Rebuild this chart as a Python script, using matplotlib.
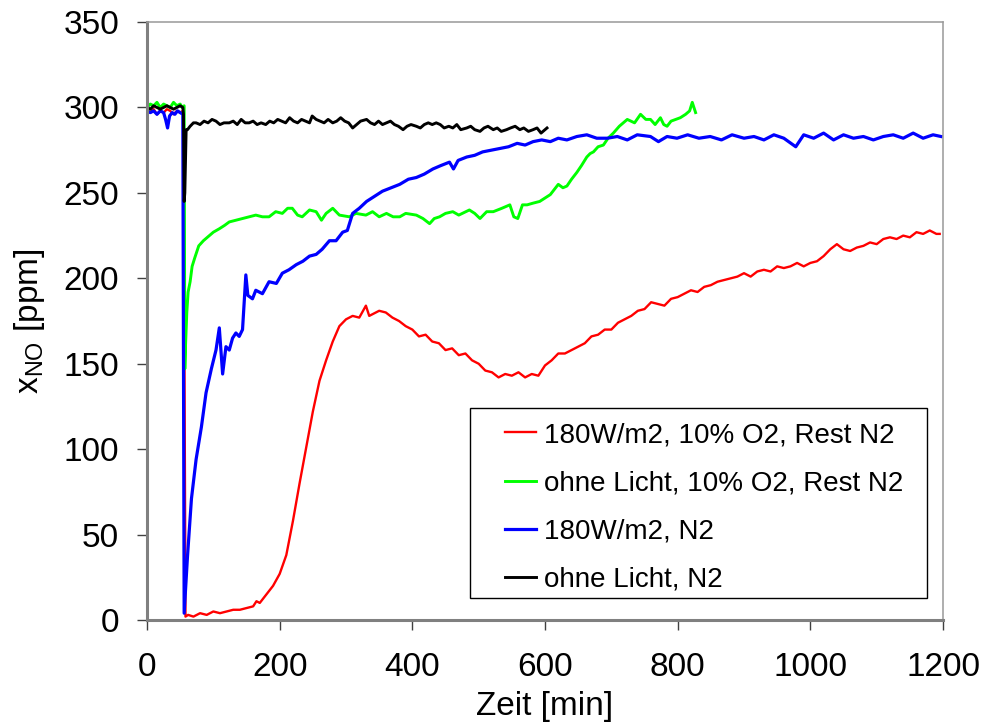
import matplotlib
matplotlib.use('Agg')
import matplotlib.pyplot as plt
from matplotlib.patches import Rectangle

plt.rcParams['font.family'] = ['Liberation Sans', 'DejaVu Sans']

# red: 180W/m2, 10% O2, Rest N2
red_t = [0, 5, 10, 15, 20, 25, 30, 35, 40, 45,
         50, 54, 55, 58, 62, 70, 80, 90, 100, 110,
         120, 130, 140, 150, 160, 165, 170, 180, 190, 200,
         210, 220, 230, 240, 250, 260, 270, 280, 290, 300,
         310, 320, 330, 335, 340, 350, 360, 370, 380, 390,
         400, 410, 420, 430, 440, 450, 460, 470, 480, 490,
         500, 510, 520, 530, 540, 550, 560, 570, 580, 590,
         600, 610, 620, 630, 640, 650, 660, 670, 680, 690,
         700, 710, 720, 730, 740, 750, 760, 770, 780, 790,
         800, 810, 820, 830, 840, 850, 860, 870, 880, 890,
         900, 910, 920, 930, 940, 950, 960, 970, 980, 990,
         1000, 1010, 1020, 1030, 1040, 1050, 1060, 1070, 1080, 1090,
         1100, 1110, 1120, 1130, 1140, 1150, 1160, 1170, 1180, 1190,
         1195]
red_ppm = [298, 297, 299, 296, 298, 297, 299, 298, 296, 298,
           297, 298, 296, 2, 3, 2, 4, 3, 5, 4,
           5, 6, 6, 7, 8, 11, 10, 15, 20, 27,
           38, 58, 80, 101, 122, 140, 152, 163, 172, 176,
           178, 177, 184, 178, 179, 181, 180, 177, 175, 172,
           170, 166, 167, 163, 162, 158, 159, 155, 156, 152,
           150, 146, 145, 142, 144, 143, 145, 142, 144, 143,
           149, 152, 156, 156, 158, 160, 162, 166, 167, 170,
           170, 174, 176, 178, 181, 182, 186, 185, 184, 188,
           189, 191, 193, 192, 195, 196, 198, 199, 200, 201,
           203, 201, 204, 205, 204, 207, 206, 207, 209, 207,
           209, 210, 213, 217, 220, 217, 216, 218, 219, 221,
           220, 223, 224, 223, 225, 224, 227, 226, 228, 226,
           226]

# green: ohne Licht, 10% O2, Rest N2
green_t = [0, 5, 10, 15, 20, 25, 30, 35, 40, 45,
           50, 53, 56, 57, 58, 60, 62, 65, 68, 72,
           78, 85, 94, 100, 109, 117, 124, 134, 144, 154,
           164, 174, 184, 194, 204, 212, 219, 227, 234, 245,
           255, 263, 270, 280, 290, 305, 315, 330, 340, 350,
           361, 371, 381, 390, 406, 416, 426, 433, 441, 450,
           461, 470, 486, 494, 502, 512, 522, 535, 547, 553,
           559, 566, 573, 582, 592, 600, 608, 614, 620, 627,
           633, 640, 648, 655, 663, 668, 673, 680, 688, 695,
           703, 712, 724, 735, 744, 752, 759, 766, 774, 779,
           784, 790, 797, 804, 812, 818, 822, 827]
green_ppm = [300, 302, 301, 303, 300, 302, 301, 300, 303, 301,
             302, 300, 301, 147, 160, 180, 192, 198, 207, 212,
             219, 222, 225, 227, 229, 231, 233, 234, 235, 236,
             237, 236, 236, 239, 238, 241, 241, 237, 236, 240,
             239, 234, 238, 241, 237, 236, 238, 237, 239, 236,
             238, 236, 236, 238, 237, 235, 232, 235, 236, 238,
             239, 237, 240, 238, 235, 239, 239, 241, 243, 236,
             235, 243, 243, 244, 245, 247, 249, 252, 255, 253,
             254, 258, 262, 266, 271, 273, 274, 277, 278, 282,
             285, 289, 293, 291, 296, 293, 293, 290, 294, 290,
             289, 292, 293, 294, 296, 298, 303, 297]

# blue: 180W/m2, N2
blue_t = [0, 5, 10, 15, 20, 25, 28, 31, 34, 38,
          42, 46, 50, 54, 56, 61, 67, 74, 82, 89,
          97, 104, 109, 114, 119, 124, 129, 134, 139, 144,
          149, 152, 159, 164, 174, 184, 195, 204, 214, 225,
          235, 245, 255, 264, 275, 285, 295, 302, 306, 310,
          320, 331, 343, 355, 368, 381, 394, 406, 418, 431,
          443, 456, 462, 469, 482, 494, 506, 519, 532, 545,
          558, 570, 582, 595, 608, 620, 633, 648, 663, 678,
          694, 709, 724, 739, 759, 771, 784, 799, 815, 832,
          849, 866, 882, 900, 915, 930, 945, 960, 978, 990,
          1005, 1020, 1035, 1050, 1065, 1080, 1095, 1110, 1125, 1140,
          1155, 1170, 1185, 1197]
blue_ppm = [298, 297, 298, 296, 298, 297, 293, 288, 295, 297,
            296, 298, 297, 296, 4, 37, 71, 94, 113, 133,
            147, 158, 171, 144, 160, 158, 165, 168, 166, 170,
            202, 190, 188, 193, 191, 198, 197, 203, 205, 208,
            210, 213, 214, 217, 222, 222, 227, 228, 233, 238,
            241, 245, 248, 251, 253, 255, 258, 259, 261, 264,
            266, 268, 264, 269, 271, 272, 274, 275, 276, 277,
            279, 278, 280, 281, 280, 282, 281, 283, 284, 282,
            282, 283, 281, 284, 283, 280, 283, 282, 284, 282,
            283, 281, 284, 282, 283, 281, 284, 282, 277, 284,
            282, 285, 281, 284, 282, 283, 281, 283, 284, 282,
            285, 282, 284, 283]

# black: ohne Licht, N2
black_t = [0, 5, 10, 15, 20, 25, 30, 35, 40, 45,
           50, 54, 55, 56, 57, 59, 61, 65, 70, 74,
           80, 86, 92, 98, 104, 110, 116, 124, 130, 136,
           142, 148, 154, 160, 166, 172, 179, 185, 191, 197,
           203, 209, 215, 221, 227, 233, 239, 245, 249, 255,
           261, 267, 273, 280, 286, 292, 298, 304, 310, 316,
           322, 331, 337, 343, 349, 355, 361, 367, 373, 379,
           386, 392, 398, 406, 412, 418, 424, 430, 436, 442,
           448, 455, 461, 467, 473, 482, 488, 494, 502, 508,
           514, 522, 528, 534, 542, 548, 555, 562, 568, 575,
           582, 588, 594, 600, 603]
black_ppm = [300, 299, 301, 300, 299, 300, 301, 300, 299, 300,
             301, 300, 296, 245, 250, 287, 287, 289, 291, 291,
             290, 292, 291, 293, 292, 290, 291, 291, 292, 290,
             293, 291, 291, 292, 290, 291, 290, 292, 291, 293,
             292, 291, 294, 292, 291, 293, 292, 291, 295, 293,
             292, 291, 293, 291, 292, 294, 292, 291, 288, 290,
             292, 293, 291, 290, 292, 290, 291, 292, 290, 289,
             287, 289, 290, 289, 288, 290, 291, 290, 291, 290,
             288, 289, 288, 290, 287, 288, 289, 287, 286, 288,
             289, 287, 288, 286, 287, 288, 289, 287, 288, 286,
             287, 288, 285, 287, 288]

labels = ['180W/m2, 10% O2, Rest N2', 'ohne Licht, 10% O2, Rest N2',
          '180W/m2, N2', 'ohne Licht, N2']
x_ticks = [0, 200, 400, 600, 800, 1000, 1200]
y_ticks = [0, 50, 100, 150, 200, 250, 300, 350]

fig = plt.figure(figsize=(9.82, 7.25), dpi=100)
ax = fig.add_axes([0.1497, 0.1448, 0.8106, 0.8248])

ax.plot(red_t, red_ppm, color='#FF0000', lw=1.7, label=labels[0])
ax.plot(green_t, green_ppm, color='#00FF00', lw=2.1, label=labels[1])
ax.plot(blue_t, blue_ppm, color='#0000FF', lw=2.3, label=labels[2])
ax.plot(black_t, black_ppm, color='black', lw=2.1, label=labels[3])

ax.set_xlim(0, 1200)
ax.set_ylim(0, 350)
ax.set_xticks(x_ticks)
ax.set_yticks(y_ticks)

for side in ['left', 'bottom']:
    ax.spines[side].set_color('#808080')
    ax.spines[side].set_linewidth(2.2)
for side in ['top', 'right']:
    ax.spines[side].set_color('#999999')
    ax.spines[side].set_linewidth(1.1)

ax.tick_params(axis='both', direction='out', length=7, width=1,
               color='#404040', labelsize=24)
ax.tick_params(axis='y', pad=13)
ax.tick_params(axis='x', pad=16)

ax.set_xlabel('Zeit [min]', fontsize=24, labelpad=6)
ax.set_ylabel(r'$\mathregular{x_{NO}}$ [ppm]', fontsize=24, labelpad=12)

# legend box (drawn separately to get the wide Excel-like padding)
ax.add_patch(Rectangle((0.406, 0.037), 0.574, 0.3175, transform=ax.transAxes,
                       facecolor='white', edgecolor='black', lw=1, zorder=4))
leg = ax.legend(loc='upper left', bbox_to_anchor=(0.4497, 0.331), frameon=False,
                fontsize=20, handlelength=1.1, handletextpad=0.3,
                labelspacing=0.8, borderpad=0, borderaxespad=0)
leg.set_zorder(5)

fig.savefig('out.png', dpi=100)
